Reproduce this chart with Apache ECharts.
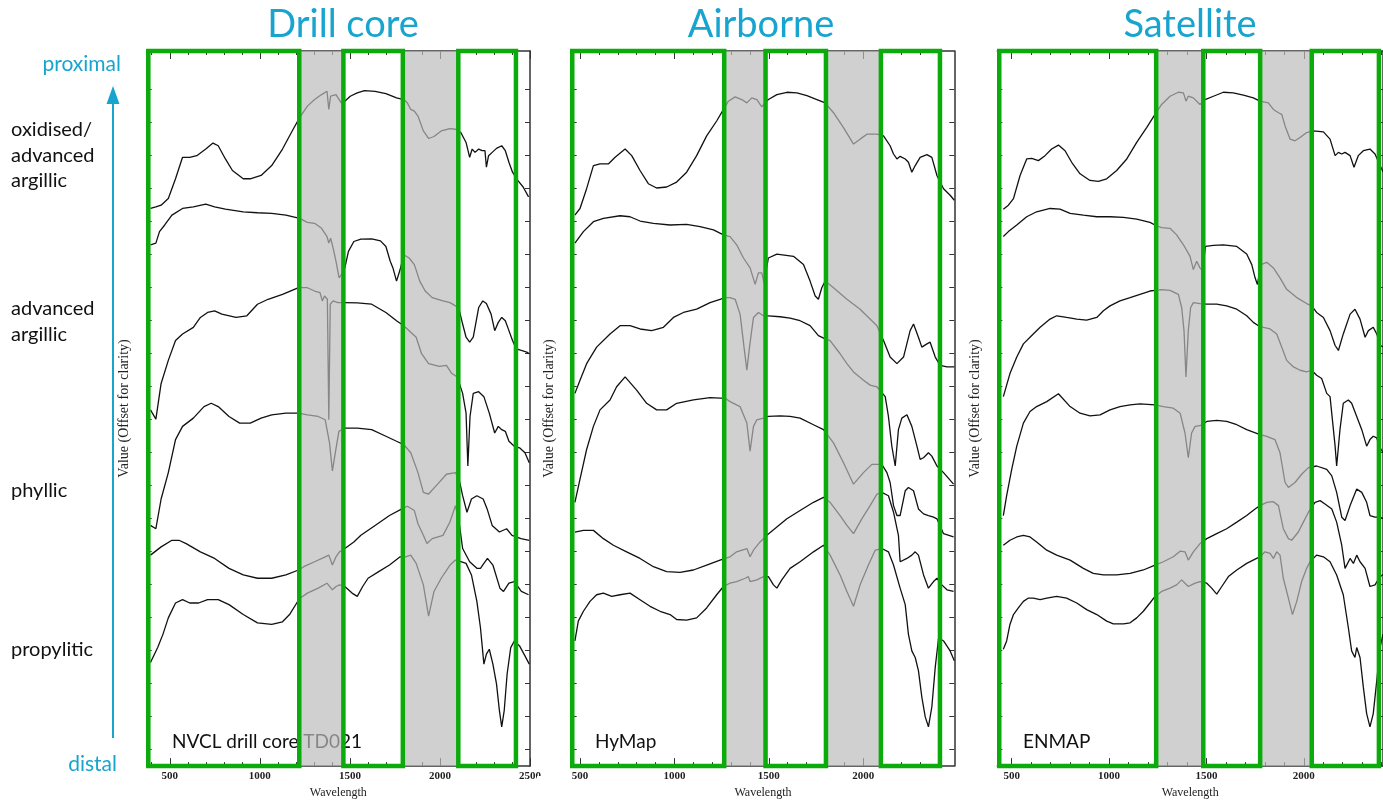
<!DOCTYPE html>
<html>
<head>
<meta charset="utf-8">
<title>Alteration spectra: drill core, airborne, satellite</title>
<script src="https://cdn.jsdelivr.net/npm/echarts@6/dist/echarts.min.js"></script>
<style>
  html, body { margin: 0; padding: 0; background: #fff; }
  #chart { width: 1383px; height: 804px; }
</style>
</head>
<body>
<div id="chart"></div>
<script>
// wavelength (nm) / offset reflectance pairs
const drillA = [[393,1.689],[423,1.694],[452,1.699],[492,1.719],[532,1.779],[571,1.844],[611,1.844],[650,1.849],[700,1.869],[740,1.887],[769,1.879],[809,1.839],[848,1.804],[908,1.779],[947,1.779],[1007,1.789],[1066,1.819],[1126,1.869],[1185,1.929],[1221,1.964],[1264,1.999],[1304,2.019],[1343,2.034],[1373,2.044],[1383,1.989],[1393,2.029],[1423,2.034],[1452,2.009],[1472,2.014],[1502,2.029],[1541,2.039],[1581,2.046],[1640,2.044],[1700,2.037],[1759,2.024],[1799,2.019],[1819,2.009],[1838,1.989],[1858,1.984],[1878,1.969],[1908,1.924],[1937,1.901],[1967,1.907],[2007,1.924],[2056,1.931],[2086,1.929],[2116,1.919],[2145,1.889],[2165,1.844],[2179,1.869],[2195,1.859],[2215,1.869],[2234,1.864],[2250,1.864],[2258,1.814],[2270,1.849],[2290,1.859],[2314,1.871],[2343,1.879],[2363,1.864],[2383,1.829],[2403,1.799],[2432,1.774],[2462,1.754],[2492,1.724]];
const drillB = [[393,1.579],[423,1.584],[443,1.619],[472,1.639],[512,1.669],[571,1.689],[631,1.694],[700,1.702],[749,1.694],[809,1.687],[908,1.679],[987,1.676],[1066,1.674],[1145,1.669],[1221,1.659],[1264,1.647],[1304,1.644],[1343,1.629],[1373,1.604],[1383,1.584],[1393,1.599],[1407,1.569],[1423,1.529],[1440,1.479],[1455,1.49],[1472,1.509],[1492,1.559],[1522,1.589],[1561,1.596],[1621,1.597],[1670,1.591],[1700,1.574],[1724,1.529],[1739,1.509],[1759,1.469],[1779,1.504],[1799,1.549],[1829,1.539],[1858,1.519],[1888,1.469],[1918,1.439],[1957,1.419],[2017,1.409],[2056,1.404],[2086,1.394],[2106,1.384],[2126,1.339],[2145,1.299],[2165,1.284],[2185,1.299],[2215,1.389],[2238,1.409],[2258,1.401],[2284,1.369],[2304,1.319],[2324,1.344],[2343,1.359],[2363,1.349],[2383,1.319],[2403,1.289],[2423,1.264],[2452,1.259],[2482,1.254],[2496,1.249]];
const drillC = [[393,1.079],[423,1.051],[452,1.159],[492,1.229],[532,1.289],[571,1.309],[631,1.329],[670,1.359],[710,1.374],[749,1.379],[789,1.369],[868,1.359],[928,1.364],[987,1.399],[1046,1.414],[1126,1.429],[1215,1.449],[1264,1.449],[1304,1.439],[1334,1.434],[1347,1.409],[1359,1.424],[1375,1.414],[1383,1.049],[1391,1.399],[1407,1.409],[1433,1.404],[1472,1.404],[1541,1.403],[1621,1.399],[1700,1.374],[1759,1.349],[1799,1.334],[1838,1.314],[1868,1.299],[1898,1.249],[1937,1.219],[1997,1.211],[2036,1.214],[2066,1.189],[2096,1.179],[2126,1.129],[2145,1.069],[2155,0.909],[2167,1.059],[2185,1.129],[2215,1.134],[2244,1.119],[2274,1.069],[2304,1.009],[2324,1.029],[2343,1.019],[2363,1.014],[2383,0.984],[2413,0.969],[2442,0.964],[2472,0.949],[2496,0.919]];
const drillD = [[393,0.729],[423,0.719],[452,0.809],[492,0.889],[532,0.989],[571,1.029],[631,1.054],[690,1.089],[730,1.099],[769,1.089],[829,1.059],[888,1.039],[947,1.039],[1007,1.054],[1066,1.064],[1145,1.069],[1215,1.069],[1264,1.064],[1324,1.059],[1363,1.049],[1387,0.979],[1403,0.894],[1419,0.949],[1439,1.014],[1472,1.024],[1541,1.024],[1621,1.019],[1700,0.999],[1759,0.984],[1799,0.974],[1838,0.949],[1878,0.889],[1908,0.829],[1937,0.824],[1987,0.854],[2036,0.884],[2086,0.889],[2106,0.869],[2126,0.819],[2150,0.769],[2175,0.809],[2205,0.819],[2240,0.809],[2262,0.779],[2290,0.729],[2330,0.709],[2370,0.719],[2400,0.699],[2450,0.689],[2496,0.684]];
const drillE = [[393,0.639],[452,0.664],[512,0.684],[551,0.684],[591,0.674],[670,0.649],[749,0.629],[829,0.599],[908,0.579],[987,0.569],[1066,0.569],[1145,0.579],[1215,0.594],[1244,0.604],[1304,0.619],[1363,0.634],[1383,0.639],[1403,0.609],[1423,0.634],[1442,0.649],[1472,0.659],[1522,0.679],[1561,0.699],[1640,0.729],[1720,0.759],[1789,0.779],[1819,0.787],[1858,0.774],[1878,0.734],[1908,0.699],[1928,0.674],[1957,0.689],[2017,0.699],[2056,0.74],[2086,0.789],[2106,0.74],[2126,0.659],[2165,0.619],[2205,0.599],[2225,0.599],[2244,0.614],[2264,0.629],[2294,0.609],[2333,0.539],[2353,0.529],[2383,0.554],[2413,0.559],[2452,0.529],[2492,0.519]];
const drillF = [[393,0.314],[433,0.359],[462,0.399],[492,0.449],[532,0.494],[571,0.504],[611,0.494],[660,0.494],[710,0.504],[769,0.504],[829,0.489],[908,0.459],[987,0.434],[1066,0.429],[1126,0.437],[1165,0.459],[1205,0.494],[1225,0.509],[1264,0.524],[1324,0.539],[1373,0.554],[1403,0.534],[1423,0.544],[1442,0.549],[1472,0.544],[1512,0.524],[1541,0.514],[1571,0.544],[1601,0.569],[1660,0.589],[1720,0.609],[1779,0.634],[1809,0.634],[1838,0.639],[1868,0.614],[1908,0.549],[1937,0.454],[1967,0.529],[2007,0.569],[2056,0.609],[2086,0.624],[2116,0.619],[2145,0.614],[2175,0.579],[2205,0.499],[2225,0.419],[2244,0.309],[2258,0.339],[2274,0.354],[2294,0.309],[2314,0.249],[2330,0.169],[2343,0.119],[2357,0.169],[2373,0.279],[2393,0.359],[2413,0.379],[2442,0.364],[2472,0.334],[2496,0.309]];

const hymapA = [[473,1.669],[500,1.689],[535,1.749],[571,1.819],[606,1.824],[650,1.824],[686,1.844],[739,1.869],[774,1.849],[818,1.804],[862,1.764],[906,1.751],[959,1.754],[1012,1.769],[1065,1.799],[1118,1.849],[1171,1.909],[1224,1.954],[1260,1.989],[1286,2.014],[1322,2.027],[1357,2.019],[1384,2.009],[1410,2.024],[1437,2.019],[1463,1.997],[1481,2.009],[1498,2.019],[1543,2.034],[1596,2.041],[1649,2.039],[1702,2.031],[1755,2.019],[1799,2.009],[1843,1.979],[1896,1.934],[1949,1.884],[1984,1.899],[2020,1.914],[2073,1.914],[2108,1.909],[2143,1.879],[2161,1.854],[2179,1.839],[2196,1.847],[2223,1.839],[2240,1.829],[2258,1.799],[2276,1.819],[2302,1.844],[2338,1.852],[2364,1.844],[2391,1.789],[2426,1.749],[2461,1.729],[2483,1.714]];
const hymapB = [[473,1.584],[518,1.619],[571,1.649],[624,1.659],[712,1.667],[765,1.664],[818,1.651],[889,1.644],[977,1.639],[1065,1.641],[1136,1.634],[1207,1.624],[1260,1.609],[1295,1.604],[1330,1.579],[1366,1.539],[1401,1.509],[1428,1.459],[1445,1.494],[1463,1.494],[1475,1.464],[1498,1.539],[1543,1.551],[1631,1.544],[1684,1.519],[1719,1.469],[1746,1.424],[1763,1.414],[1781,1.449],[1799,1.469],[1843,1.449],[1914,1.414],[1984,1.384],[2073,1.334],[2108,1.289],[2143,1.239],[2179,1.219],[2214,1.239],[2249,1.319],[2267,1.339],[2293,1.299],[2311,1.269],[2338,1.279],[2355,1.284],[2382,1.239],[2408,1.214],[2444,1.209],[2483,1.209]];
const hymapC = [[473,1.129],[500,1.169],[535,1.219],[588,1.269],[659,1.309],[712,1.334],[765,1.334],[818,1.324],[880,1.319],[942,1.329],[995,1.359],[1048,1.374],[1118,1.384],[1189,1.404],[1242,1.414],[1269,1.419],[1295,1.419],[1322,1.414],[1348,1.369],[1369,1.269],[1384,1.199],[1398,1.269],[1419,1.359],[1445,1.374],[1472,1.364],[1498,1.364],[1560,1.361],[1613,1.357],[1666,1.349],[1719,1.334],[1763,1.304],[1799,1.294],[1825,1.289],[1878,1.249],[1914,1.219],[1949,1.194],[2002,1.169],[2037,1.154],[2073,1.149],[2117,1.119],[2134,1.059],[2152,0.969],[2170,0.909],[2187,1.019],[2205,1.054],[2232,1.064],[2258,1.029],[2285,0.969],[2302,0.929],[2320,0.934],[2346,0.949],[2364,0.939],[2391,0.909],[2426,0.889],[2479,0.854]];
const hymapD = [[473,0.799],[500,0.869],[535,0.959],[571,1.029],[606,1.079],[659,1.109],[694,1.149],[739,1.179],[800,1.139],[853,1.099],[906,1.079],[959,1.079],[1012,1.099],[1101,1.109],[1189,1.116],[1269,1.114],[1295,1.104],[1348,1.089],[1384,1.039],[1401,0.954],[1419,1.029],[1437,1.049],[1472,1.054],[1498,1.059],[1560,1.061],[1613,1.059],[1666,1.054],[1737,1.034],[1790,1.019],[1843,0.979],[1896,0.919],[1949,0.854],[2002,0.889],[2046,0.914],[2073,0.914],[2099,0.914],[2126,0.889],[2143,0.859],[2161,0.789],[2179,0.759],[2196,0.759],[2223,0.834],[2240,0.844],[2267,0.834],[2293,0.779],[2320,0.764],[2346,0.759],[2373,0.754],[2391,0.749],[2426,0.704],[2479,0.694]];
const hymapE = [[473,0.709],[518,0.714],[571,0.714],[624,0.689],[677,0.669],[747,0.649],[818,0.629],[889,0.604],[959,0.589],[1030,0.587],[1101,0.594],[1171,0.609],[1242,0.624],[1269,0.629],[1295,0.634],[1330,0.649],[1384,0.659],[1401,0.634],[1419,0.654],[1454,0.679],[1490,0.699],[1543,0.724],[1596,0.749],[1666,0.774],[1737,0.799],[1790,0.814],[1825,0.799],[1878,0.759],[1914,0.729],[1949,0.704],[1993,0.749],[2037,0.789],[2073,0.824],[2099,0.829],[2134,0.819],[2161,0.769],[2187,0.699],[2196,0.619],[2232,0.629],[2258,0.639],[2276,0.649],[2293,0.639],[2320,0.579],[2346,0.539],[2373,0.559],[2391,0.569],[2417,0.549],[2444,0.534],[2479,0.529]];
const hymapF = [[473,0.379],[491,0.439],[518,0.469],[553,0.499],[588,0.519],[624,0.524],[668,0.514],[712,0.519],[765,0.524],[818,0.504],[871,0.484],[924,0.469],[977,0.459],[1012,0.444],[1065,0.442],[1118,0.449],[1171,0.479],[1224,0.519],[1260,0.544],[1295,0.554],[1330,0.559],[1375,0.569],[1392,0.574],[1401,0.559],[1437,0.564],[1472,0.574],[1498,0.574],[1525,0.549],[1543,0.539],[1569,0.564],[1613,0.599],[1666,0.619],[1737,0.649],[1790,0.669],[1825,0.639],[1878,0.579],[1914,0.529],[1949,0.484],[1984,0.549],[2028,0.609],[2064,0.654],[2099,0.659],[2134,0.649],[2161,0.609],[2196,0.539],[2223,0.489],[2240,0.399],[2258,0.349],[2276,0.329],[2293,0.289],[2311,0.209],[2329,0.149],[2346,0.119],[2364,0.179],[2382,0.299],[2400,0.389],[2426,0.379],[2461,0.349],[2483,0.319]];

const enmapA = [[457,1.687],[483,1.699],[509,1.719],[543,1.789],[577,1.839],[603,1.841],[637,1.834],[671,1.849],[705,1.869],[740,1.881],[774,1.864],[808,1.829],[851,1.794],[902,1.774],[945,1.771],[988,1.779],[1039,1.804],[1091,1.839],[1142,1.889],[1193,1.934],[1236,1.974],[1270,2.004],[1313,2.029],[1356,2.041],[1382,2.039],[1395,2.014],[1407,2.029],[1433,2.024],[1467,2.004],[1493,2.019],[1536,2.029],[1587,2.041],[1638,2.039],[1690,2.032],[1741,2.024],[1775,2.014],[1818,2.009],[1844,1.989],[1870,1.979],[1887,1.974],[1904,1.939],[1930,1.899],[1955,1.894],[1981,1.904],[2015,1.919],[2049,1.924],[2101,1.921],[2135,1.899],[2161,1.849],[2178,1.859],[2195,1.854],[2212,1.859],[2238,1.849],[2258,1.814],[2280,1.849],[2306,1.864],[2340,1.869],[2366,1.854],[2392,1.819],[2407,1.8]];
const enmapB = [[457,1.604],[483,1.619],[526,1.639],[577,1.664],[628,1.679],[697,1.689],[748,1.687],[800,1.674],[868,1.669],[937,1.664],[1005,1.664],[1074,1.662],[1142,1.657],[1210,1.647],[1236,1.639],[1270,1.631],[1313,1.629],[1347,1.609],[1382,1.579],[1416,1.544],[1433,1.504],[1450,1.529],[1467,1.509],[1480,1.5],[1495,1.574],[1536,1.577],[1587,1.579],[1656,1.574],[1707,1.551],[1733,1.519],[1750,1.479],[1762,1.459],[1780,1.519],[1810,1.526],[1844,1.509],[1878,1.479],[1912,1.444],[1964,1.419],[2015,1.401],[2041,1.394],[2066,1.374],[2101,1.359],[2135,1.319],[2161,1.274],[2178,1.259],[2203,1.309],[2238,1.369],[2263,1.384],[2289,1.354],[2315,1.299],[2332,1.319],[2357,1.329],[2375,1.309],[2392,1.274],[2407,1.27]];
const enmapC = [[457,1.119],[491,1.189],[526,1.239],[560,1.279],[603,1.304],[646,1.329],[697,1.354],[731,1.364],[782,1.359],[834,1.354],[885,1.351],[937,1.359],[971,1.379],[1005,1.394],[1056,1.409],[1108,1.419],[1159,1.429],[1210,1.439],[1236,1.441],[1270,1.443],[1313,1.441],[1356,1.429],[1373,1.389],[1385,1.319],[1395,1.179],[1407,1.319],[1419,1.389],[1433,1.404],[1467,1.401],[1502,1.399],[1553,1.399],[1604,1.394],[1656,1.384],[1707,1.364],[1741,1.344],[1767,1.334],[1793,1.329],[1827,1.324],[1861,1.309],[1887,1.269],[1912,1.229],[1947,1.209],[1981,1.199],[2015,1.194],[2041,1.199],[2066,1.184],[2092,1.174],[2118,1.129],[2135,1.119],[2161,0.969],[2169,0.909],[2186,1.019],[2203,1.099],[2229,1.109],[2246,1.099],[2272,1.059],[2298,1.019],[2323,0.969],[2340,0.989],[2357,0.999],[2375,0.994],[2392,0.964],[2407,0.95]];
const enmapD = [[457,0.759],[474,0.819],[500,0.899],[526,0.969],[560,1.039],[594,1.074],[628,1.089],[680,1.104],[740,1.128],[800,1.089],[851,1.069],[902,1.061],[954,1.064],[1005,1.079],[1056,1.089],[1108,1.094],[1159,1.097],[1236,1.094],[1279,1.089],[1330,1.084],[1365,1.069],[1390,1.009],[1407,0.934],[1424,1.009],[1442,1.029],[1467,1.031],[1502,1.044],[1553,1.047],[1604,1.044],[1656,1.034],[1707,1.019],[1775,1.004],[1810,0.999],[1852,0.989],[1878,0.949],[1904,0.859],[1921,0.844],[1955,0.859],[1989,0.884],[2024,0.904],[2066,0.909],[2118,0.899],[2144,0.879],[2169,0.829],[2195,0.754],[2212,0.744],[2238,0.789],[2272,0.839],[2298,0.829],[2323,0.799],[2340,0.759],[2366,0.754],[2392,0.754],[2407,0.75]];
const enmapE = [[457,0.669],[491,0.684],[526,0.694],[560,0.699],[594,0.694],[628,0.679],[680,0.654],[731,0.639],[800,0.624],[868,0.599],[919,0.584],[971,0.579],[1039,0.579],[1108,0.584],[1176,0.594],[1236,0.609],[1279,0.619],[1330,0.634],[1365,0.651],[1390,0.649],[1407,0.624],[1433,0.649],[1467,0.674],[1502,0.689],[1553,0.704],[1604,0.719],[1656,0.739],[1707,0.759],[1750,0.779],[1775,0.789],[1810,0.799],[1844,0.801],[1870,0.789],[1895,0.719],[1921,0.689],[1938,0.684],[1972,0.709],[1998,0.739],[2024,0.769],[2058,0.799],[2084,0.804],[2109,0.794],[2144,0.779],[2169,0.739],[2195,0.669],[2212,0.599],[2238,0.629],[2255,0.614],[2272,0.639],[2289,0.619],[2315,0.599],[2340,0.544],[2366,0.549],[2392,0.574],[2407,0.58]];
const enmapF = [[457,0.354],[474,0.379],[491,0.429],[509,0.459],[534,0.479],[560,0.499],[586,0.509],[611,0.509],[646,0.504],[680,0.509],[731,0.514],[782,0.509],[834,0.494],[885,0.474],[937,0.459],[988,0.439],[1022,0.431],[1074,0.431],[1108,0.434],[1142,0.449],[1176,0.469],[1210,0.494],[1236,0.514],[1270,0.529],[1313,0.539],[1347,0.549],[1373,0.564],[1390,0.554],[1407,0.544],[1442,0.554],[1467,0.559],[1502,0.554],[1527,0.539],[1553,0.521],[1579,0.544],[1613,0.574],[1656,0.594],[1707,0.614],[1758,0.629],[1775,0.634],[1801,0.649],[1827,0.644],[1844,0.629],[1861,0.649],[1878,0.639],[1895,0.569],[1921,0.509],[1942,0.459],[1964,0.499],[1989,0.559],[2015,0.599],[2032,0.619],[2066,0.639],[2101,0.634],[2135,0.619],[2169,0.579],[2203,0.519],[2229,0.419],[2246,0.349],[2263,0.329],[2272,0.359],[2289,0.329],[2306,0.239],[2323,0.159],[2340,0.119],[2357,0.159],[2375,0.259],[2392,0.359],[2407,0.4]];

// axis ranges, highlighted windows (green) and masked windows (grey), in nm
const drillRange = [372, 2500];
const hymapRange = [456, 2483];
const enmapRange = [426, 2407];
const drillBoxes = [[381, 1219], [1464, 1794], [2102, 2422]];
const drillBands = [[1219, 1464], [1794, 2102]];
const hymapBoxes = [[459, 1264], [1483, 1803], [2094, 2407]];
const hymapBands = [[1264, 1483], [1803, 2094]];
const enmapBoxes = [[436, 1242], [1484, 1776], [2041, 2386]];
const enmapBands = [[1242, 1484], [1776, 2041]];
const yRange = [0, 2.166];

const xMajor = [500, 1000, 1500, 2000, 2500];
const xMinor = [400, 600, 700, 800, 900, 1100, 1200, 1300, 1400, 1600, 1700, 1800, 1900, 2100, 2200, 2300, 2400];
const yTicks = [0.05, 0.15, 0.25, 0.35, 0.45, 0.55, 0.65, 0.75, 0.85, 0.95, 1.05, 1.15, 1.25, 1.35, 1.45, 1.55, 1.65, 1.75, 1.85, 1.95, 2.05];

const panels = [
  { title: 'Drill core', titleX: 343, tag: 'NVCL drill core TD021', tagX: 172, range: drillRange, boxes: drillBoxes, bands: drillBands, curves: [drillA, drillB, drillC, drillD, drillE, drillF] },
  { title: 'Airborne', titleX: 761, tag: 'HyMap', tagX: 595, range: hymapRange, boxes: hymapBoxes, bands: hymapBands, curves: [hymapA, hymapB, hymapC, hymapD, hymapE, hymapF] },
  { title: 'Satellite', titleX: 1190, tag: 'ENMAP', tagX: 1023, range: enmapRange, boxes: enmapBoxes, bands: enmapBands, curves: [enmapA, enmapB, enmapC, enmapD, enmapE, enmapF] }
];

const layout = [
  { left: 146.7, width: 383.3 },
  { left: 571.7, width: 382.6 },
  { left: 997.3, width: 385.7 }
];

const BLUE = '#17a5cf';
const GREEN = '#0aab0a';
const serif = 'Liberation Serif';
const axisColor = '#333';

const grid = [], xAxis = [], yAxis = [], series = [], graphic = [];

panels.forEach((p, i) => {
  grid.push({ left: layout[i].left, width: layout[i].width, top: 51, height: 722 });

  const inRange = v => v >= p.range[0] && v <= p.range[1];
  const majors = xMajor.filter(inRange);
  const minors = xMinor.filter(inRange);
  const base = { type: 'value', gridIndex: i, min: p.range[0], max: p.range[1], splitLine: { show: false } };
  const line = { show: true, lineStyle: { color: axisColor, width: 1.5 } };
  const noLabel = { show: false };

  xAxis.push({
    ...base, position: 'bottom', axisLine: line,
    axisTick: { inside: true, length: 8, customValues: majors, lineStyle: { color: axisColor } },
    axisLabel: { customValues: majors, formatter: v => String(v), margin: 5, color: '#222', fontFamily: serif, fontWeight: 'bold', fontSize: 11 },
    name: 'Wavelength', nameLocation: 'middle', nameGap: 16,
    nameTextStyle: { fontFamily: serif, fontSize: 12, color: '#222' }
  });
  xAxis.push({ ...base, position: 'bottom', axisLine: { show: false }, axisTick: { inside: true, length: 4, customValues: minors, lineStyle: { color: axisColor } }, axisLabel: noLabel });
  xAxis.push({ ...base, position: 'top', axisLine: line, axisTick: { inside: true, length: 8, customValues: majors, lineStyle: { color: axisColor } }, axisLabel: noLabel });
  xAxis.push({ ...base, position: 'top', axisLine: { show: false }, axisTick: { inside: true, length: 4, customValues: minors, lineStyle: { color: axisColor } }, axisLabel: noLabel });

  const ybase = { type: 'value', gridIndex: i, min: yRange[0], max: yRange[1], splitLine: { show: false }, axisLabel: noLabel };
  yAxis.push({
    ...ybase, position: 'left', axisLine: line,
    axisTick: { inside: true, length: 5, customValues: yTicks, lineStyle: { color: axisColor } },
    name: 'Value (Offset for clarity)', nameLocation: 'middle', nameGap: 15, nameRotate: 90,
    nameTextStyle: { fontFamily: serif, fontSize: 14, color: '#222' }
  });
  yAxis.push({ ...ybase, position: 'right', axisLine: line, axisTick: { inside: true, length: 5, customValues: yTicks, lineStyle: { color: axisColor } } });

  const xi = i * 4, yi = i * 2;
  p.curves.forEach(c => {
    series.push({
      type: 'line', xAxisIndex: xi, yAxisIndex: yi, data: c, showSymbol: false, silent: true,
      lineStyle: { color: '#111', width: 1.3 }, z: 2
    });
  });
  // grey masks over the water bands
  series.push({
    type: 'line', xAxisIndex: xi, yAxisIndex: yi, data: [], silent: true, z: 3,
    markArea: {
      silent: true, z: 3,
      itemStyle: { color: 'rgba(187,187,187,0.69)' },
      data: p.bands.map(b => [{ xAxis: b[0], yAxis: yRange[0] }, { xAxis: b[1], yAxis: yRange[1] }])
    }
  });
  // green windows
  series.push({
    type: 'line', xAxisIndex: xi, yAxisIndex: yi, data: [], silent: true, z: 4, clip: false,
    markArea: {
      silent: true, z: 4,
      itemStyle: { color: 'rgba(0,0,0,0)', borderColor: GREEN, borderWidth: 4.5 },
      data: p.boxes.map(b => [{ xAxis: b[0], yAxis: yRange[0] }, { xAxis: b[1], yAxis: yRange[1] }])
    }
  });

  graphic.push({ type: 'text', x: p.titleX, y: 25, z: 10, style: { text: p.title, font: '38px Lato', fill: BLUE, textAlign: 'center', textVerticalAlign: 'middle' } });
  graphic.push({ type: 'text', x: p.tagX, y: 742, z: 1, style: { text: p.tag, font: '19px Lato', fill: '#111', textAlign: 'left', textVerticalAlign: 'middle' } });
});

// left-hand annotation: alteration zones and the proximal/distal arrow
const zoneLabels = [['oxidised/', 130], ['advanced', 156], ['argillic', 181], ['advanced', 309], ['argillic', 335], ['phyllic', 491], ['propylitic', 650]];
zoneLabels.forEach(z => {
  graphic.push({ type: 'text', x: 11, y: z[1], z: 10, style: { text: z[0], font: '20px Lato', fill: '#111', textAlign: 'left', textVerticalAlign: 'middle' } });
});
graphic.push({ type: 'text', x: 121, y: 64, z: 10, style: { text: 'proximal', font: '21px Lato', fill: BLUE, textAlign: 'right', textVerticalAlign: 'middle' } });
graphic.push({ type: 'text', x: 117, y: 764, z: 10, style: { text: 'distal', font: '21px Lato', fill: BLUE, textAlign: 'right', textVerticalAlign: 'middle' } });
graphic.push({ type: 'line', z: 10, shape: { x1: 113, y1: 738, x2: 113, y2: 100 }, style: { stroke: BLUE, lineWidth: 2 } });
graphic.push({ type: 'polygon', z: 10, shape: { points: [[113, 86], [106.5, 104], [119.5, 104]] }, style: { fill: BLUE } });
// the drill-core picture is cropped on its right edge, cutting its last label
graphic.push({ type: 'rect', z: 20, shape: { x: 537, y: 776, width: 8, height: 16 }, style: { fill: '#fff' } });

const chart = echarts.init(document.getElementById('chart'));
chart.setOption({
  backgroundColor: '#fff',
  animation: false,
  grid: grid,
  xAxis: xAxis,
  yAxis: yAxis,
  series: series,
  graphic: graphic
});
</script>
</body>
</html>
